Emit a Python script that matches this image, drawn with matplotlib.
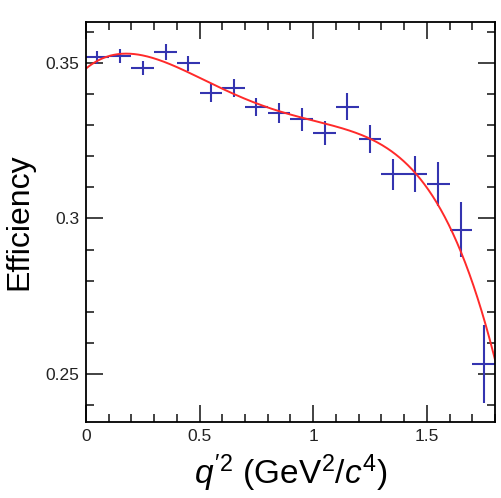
import matplotlib
matplotlib.use("Agg")
import matplotlib.pyplot as plt
from matplotlib.ticker import MultipleLocator
import numpy as np

plt.rcParams['font.family'] = ['Liberation Sans', 'DejaVu Sans']
plt.rcParams['mathtext.fontset'] = 'custom'
plt.rcParams['mathtext.rm'] = 'Liberation Sans'
plt.rcParams['mathtext.it'] = 'Liberation Sans:italic'

# Data (efficiency per q'^2 bin)
q2 = np.array([0.05, 0.15, 0.25, 0.35, 0.45, 0.55, 0.65, 0.75, 0.85,
               0.95, 1.05, 1.15, 1.25, 1.35, 1.45, 1.55, 1.65, 1.75])
q2_err = np.full(len(q2), 0.05)
eff = np.array([0.3518, 0.3522, 0.3485, 0.3536, 0.3499, 0.3403, 0.3419, 0.3358, 0.3338,
                0.3319, 0.3274, 0.3360, 0.3256, 0.3142, 0.3142, 0.3111, 0.2964, 0.2531])
eff_err = np.array([0.0022, 0.0023, 0.0023, 0.0025, 0.0024, 0.0028, 0.0029, 0.0030, 0.0032,
                    0.0037, 0.0038, 0.0042, 0.0045, 0.0050, 0.0058, 0.0070, 0.0088, 0.0126])

# 4th order polynomial fit, weighted by the errors
coef = np.polyfit(q2, eff, 4, w=1 / eff_err)
x_fit = np.linspace(0, 1.8, 400)
y_fit = np.polyval(coef, x_fit)

fig = plt.figure(figsize=(5.02, 4.98), dpi=100)
ax = fig.add_axes([0.1713, 0.1526, 0.8147, 0.8032])

ax.errorbar(q2, eff, xerr=q2_err, yerr=eff_err, fmt='none',
            ecolor='#3434b0', elinewidth=1.5, capsize=0)
ax.plot(x_fit, y_fit, color='#ff2a2a', lw=1.4)

ax.set_xlim(0, 1.8)
ax.set_ylim(0.2345, 0.3632)
ax.xaxis.set_major_locator(MultipleLocator(0.5))
ax.xaxis.set_minor_locator(MultipleLocator(0.1))
ax.yaxis.set_major_locator(MultipleLocator(0.05))
ax.yaxis.set_minor_locator(MultipleLocator(0.01))
ax.xaxis.set_major_formatter(plt.FuncFormatter(lambda v, p: f"{v:g}"))
ax.yaxis.set_major_formatter(plt.FuncFormatter(lambda v, p: f"{v:g}"))
ax.tick_params(which='both', direction='in', top=True, right=True, width=1.2,
               labelsize=12.5, pad=5, colors='#222222')
ax.tick_params(which='major', length=12)
ax.tick_params(which='minor', length=6)
for s in ax.spines.values():
    s.set_linewidth(1.3)

ax.set_ylabel('Efficiency', fontsize=23)
ax.yaxis.set_label_coords(-0.125, 0.5)
ax.set_xlabel(r"$q'^{2}$ (GeV$^{2}$/$c^{4}$)", fontsize=24, labelpad=6)

fig.savefig('out.png', dpi=100)
